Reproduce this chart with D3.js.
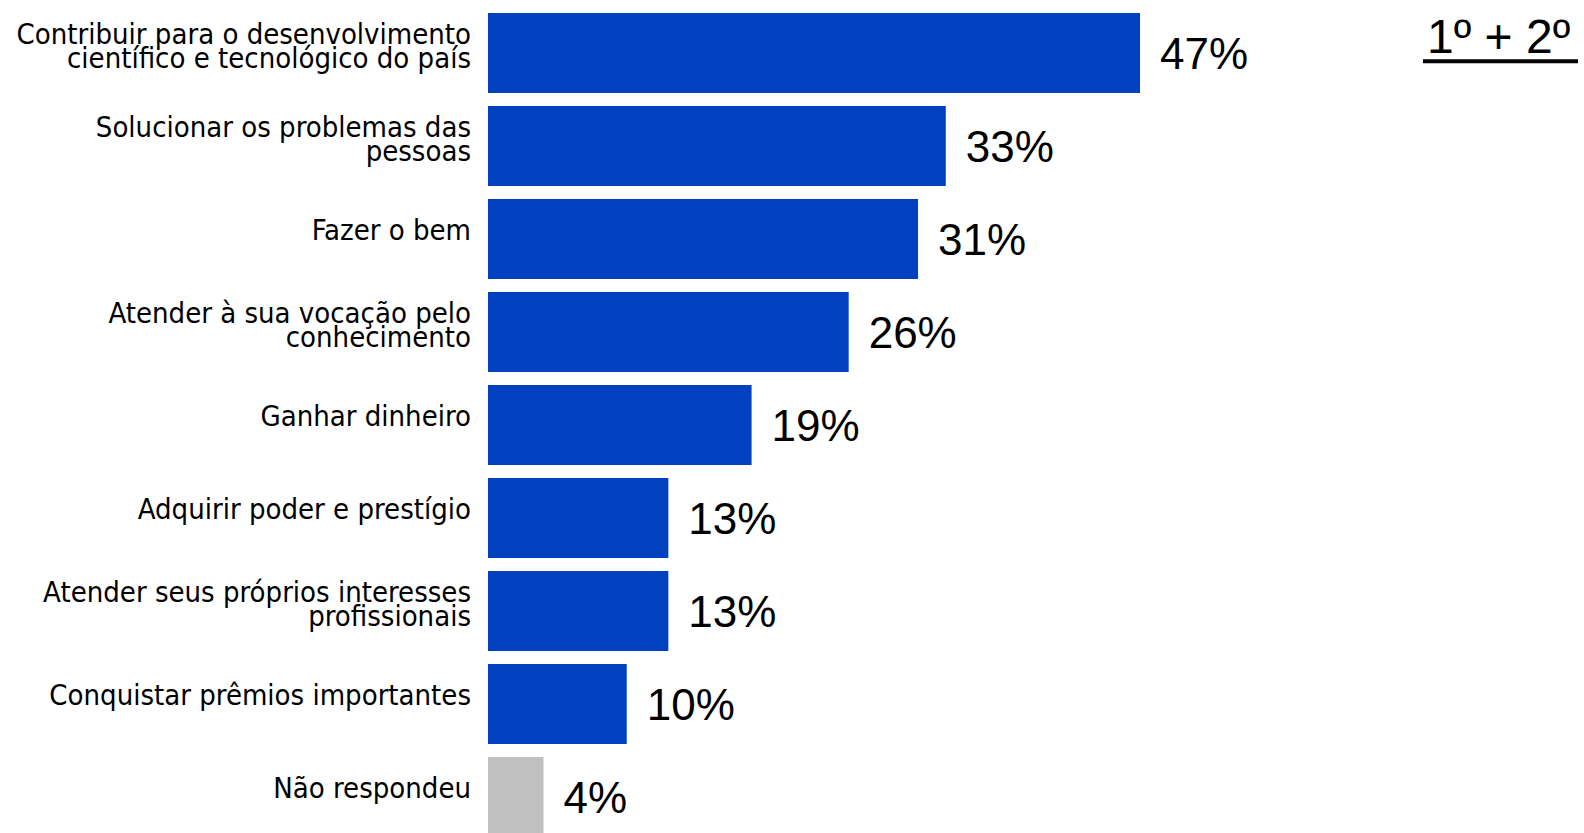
<!DOCTYPE html>
<html>

<head>
    <script src="https://d3js.org/d3.v7.min.js"></script>
    <style>
        body { margin: 0; background: #fff; }
    </style>
</head>

<body>
    <svg id="chart" width="1584" height="833"></svg>
    <script>
        // categories (each entry is the lines of one label) and their values
        const categories = [
            ["Contribuir para o desenvolvimento", "científico e tecnológico do país"],
            ["Solucionar os problemas das", "pessoas"],
            ["Fazer o bem"],
            ["Atender à sua vocação pelo", "conhecimento"],
            ["Ganhar dinheiro"],
            ["Adquirir poder e prestígio"],
            ["Atender seus próprios interesses", "profissionais"],
            ["Conquistar prêmios importantes"],
            ["Não respondeu"]
        ]
        const values = [47, 33, 31, 26, 19, 13, 13, 10, 4]
        const noAnswer = [false, false, false, false, false, false, false, false, true]
        const heading = "1º + 2º"

        const blue = "#0041c0"
        const grey = "#c0c0c0"

        const svg = d3.select("#chart")
        const ids = categories.map((c, i) => i)

        const x = d3.scaleLinear()
            .domain([0, 47])
            .range([488, 1140])

        const y = d3.scaleBand()
            .domain(ids)
            .range([13, 837])
            .paddingInner(0.14)
            .paddingOuter(0)

        // bars
        svg.selectAll(".bar")
            .data(ids)
            .enter()
            .append("rect")
            .attr("class", "bar")
            .attr("x", x(0))
            .attr("y", d => y(d))
            .attr("width", d => x(values[d]) - x(0))
            .attr("height", y.bandwidth())
            .attr("fill", d => noAnswer[d] ? grey : blue)

        // value labels
        svg.selectAll(".value")
            .data(ids)
            .enter()
            .append("text")
            .attr("class", "value")
            .attr("x", d => x(values[d]) + 20)
            .attr("y", d => y(d) + y.bandwidth() / 2 + 16)
            .attr("style", "font-family:'Liberation Sans',Arial,sans-serif;font-size:44px;fill:#000")
            .text(d => values[d] + "%")

        // category labels, right aligned next to the bars
        const labels = svg.selectAll(".label")
            .data(ids)
            .enter()
            .append("text")
            .attr("class", "label")
            .attr("text-anchor", "end")
            .attr("style", "font-family:'DejaVu Sans Condensed','DejaVu Sans',sans-serif;font-size:29px;fill:#000")

        labels.each(function (d) {
            const lines = categories[d]
            const mid = y(d) + y.bandwidth() / 2
            const first = lines.length > 1 ? mid - 9 : mid + 1
            d3.select(this).selectAll("tspan")
                .data(lines)
                .enter()
                .append("tspan")
                .attr("x", 471)
                .attr("y", (l, i) => first + i * 24)
                .text(l => l)
        })

        // heading top right, underlined
        svg.append("text")
            .attr("x", 1427)
            .attr("y", 53)
            .attr("style", "font-family:'Liberation Sans',Arial,sans-serif;font-size:48px;fill:#000")
            .text(heading)
        svg.append("line")
            .attr("x1", 1423)
            .attr("x2", 1578)
            .attr("y1", 61.3)
            .attr("y2", 61.3)
            .attr("stroke", "#000")
            .attr("stroke-width", 4)
    </script>
</body>

</html>
